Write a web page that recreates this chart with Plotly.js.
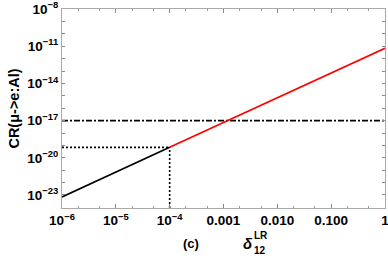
<!DOCTYPE html>
<html><head><meta charset="utf-8">
<script src="https://cdn.plot.ly/plotly-3.0.1.min.js"></script>
<style>body{margin:0;background:#fff}#g{width:388px;height:258px}</style>
</head><body><div id="g"></div>
<script>
var blackX = [1e-6, 1e-4];
var blackY = [7e-24, 7e-20];
var redX = [1e-4, 1];
var redY = [7e-20, 7e-12];
var limitY = 1e-17;
var crossX = 1e-4;
var crossY = 7e-20;
var xTickVals = [1e-6, 1e-5, 1e-4, 1e-3, 1e-2, 1e-1, 1];
var xTickText = ['10<sup>\u22126</sup>', '10<sup>\u22125</sup>', '10<sup>\u22124</sup>', '0.001', '0.010', '0.100', '1'];
var yTickVals = [];
var yTickText = [];
for (var e = -24; e <= -8; e++) {
  yTickVals.push(Math.pow(10, e));
  yTickText.push(((-8 - e) % 3 === 0) ? '10<sup>\u2212' + (-e) + '</sup>' : '');
}
var yMin = Math.pow(10, -24.05), yMax = 1e-8;

var traces = [
  {x: [1e-6, 1], y: [limitY, limitY], mode: 'lines', line: {color: '#000', width: 1.6, dash: '6px,2px,2px,2px'}},
  {x: [1e-6, crossX], y: [crossY, crossY], mode: 'lines', line: {color: '#000', width: 1.6, dash: '2px,2px'}},
  {x: [crossX, crossX], y: [yMin, crossY], mode: 'lines', line: {color: '#000', width: 1.6, dash: '2px,2px'}},
  {x: blackX, y: blackY, mode: 'lines', line: {color: '#000', width: 1.7}},
  {x: redX, y: redY, mode: 'lines', line: {color: '#ff0000', width: 1.7}}
];
var tf = {family: 'Liberation Sans, Arial, sans-serif', size: 13.5, color: '#000', weight: 'bold'};
var af = {family: 'Liberation Sans, Arial, sans-serif', size: 13, color: '#000'};
var layout = {
  width: 388, height: 258,
  margin: {l: 62, r: 3, t: 9, b: 50},
  showlegend: false,
  paper_bgcolor: '#fff', plot_bgcolor: '#fff',
  xaxis: {type: 'log', range: [-6, 0.0005], tickvals: xTickVals, ticktext: xTickText,
    ticks: 'inside', ticklen: 4, tickcolor: '#888', showgrid: false, zeroline: false,
    showline: true, linecolor: '#aaa', mirror: 'allticks', tickfont: tf, ticklabeloverflow: 'allow',
    minor: {ticks: 'inside', ticklen: 2, tickcolor: '#999', showgrid: false}},
  yaxis: {type: 'log', range: [-24.05, -7.99], tickvals: yTickVals, ticktext: yTickText,
    ticks: 'inside', ticklen: 3, tickcolor: '#888', showgrid: false, zeroline: false,
    showline: true, linecolor: '#aaa', mirror: 'allticks', tickfont: tf, ticklabeloverflow: 'allow',
    title: {text: 'CR(\u03bc->e:Al)', font: {family: 'Liberation Sans, Arial, sans-serif', size: 14.5, color: '#000', weight: 'bold'}, standoff: 4}},
  annotations: [
    {text: '<b>(c)</b>', xref: 'paper', yref: 'paper', x: 0.40, y: -0.18, xanchor: 'center', yanchor: 'middle', showarrow: false, font: af},
    {text: '<b><i>\u03b4</i></b>', xref: 'paper', yref: 'paper', x: 0.576, y: -0.18, xanchor: 'center', yanchor: 'middle', showarrow: false, font: {family: 'Liberation Sans, Arial', size: 15, color: '#000'}},
    {text: '<b>LR</b>', xref: 'paper', yref: 'paper', x: 0.587, y: -0.137, xanchor: 'left', yanchor: 'middle', showarrow: false, font: {family: 'Liberation Sans, Arial', size: 10, color: '#000'}},
    {text: '<b>12</b>', xref: 'paper', yref: 'paper', x: 0.587, y: -0.215, xanchor: 'left', yanchor: 'middle', showarrow: false, font: {family: 'Liberation Sans, Arial', size: 10, color: '#000'}}
  ]
};
Plotly.newPlot('g', traces, layout, {displayModeBar: false, staticPlot: true});
</script></body></html>
